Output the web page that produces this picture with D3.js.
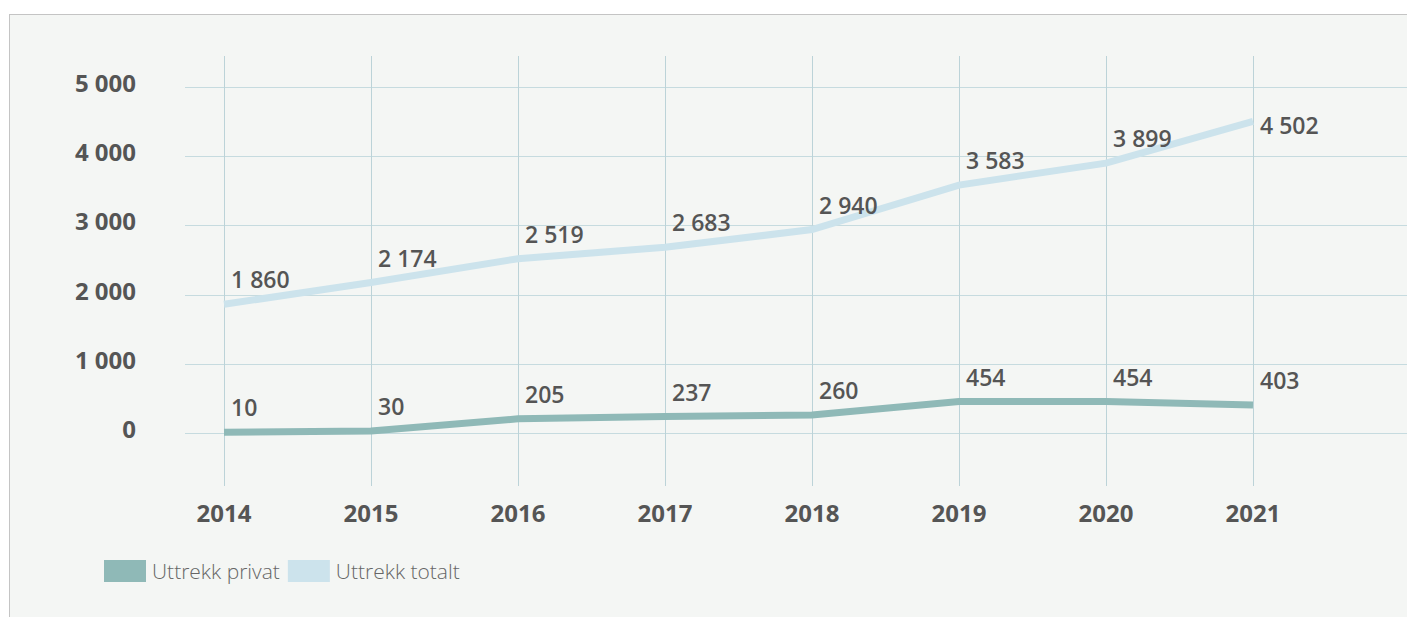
<!DOCTYPE html>
<html>
<head>
<meta charset="utf-8">
<script src="https://cdn.jsdelivr.net/npm/d3@7"></script>
<style>
  body { margin: 0; background: #fff; }
  svg text { font-family: "Open Sans", "Noto Sans", sans-serif; }
</style>
</head>
<body>
<svg id="mainsvg" width="1407" height="617"></svg>
<script>
const years = [2014, 2015, 2016, 2017, 2018, 2019, 2020, 2021];
const privat = [10, 30, 205, 237, 260, 454, 454, 403];
const totalt = [1860, 2174, 2519, 2683, 2940, 3583, 3899, 4502];
const yTicks = [0, 1000, 2000, 3000, 4000, 5000];
const seriesNames = ['Uttrekk privat', 'Uttrekk totalt'];
const seriesColors = ['#8fb9b7', '#cce3ec'];

const svg = d3.select('#mainsvg');
const width = +svg.attr('width');
const height = +svg.attr('height');

// panel
svg.append('rect').attr('x', 9.5).attr('y', 14.5).attr('width', width).attr('height', height)
  .attr('fill', '#f4f6f4').attr('stroke', '#c4c4c4').attr('stroke-width', 1);

const x = d3.scalePoint().domain(years).range([224, 1253]);
const y = d3.scaleLinear().domain([0, 5000]).range([433, 87]);
const fmt = v => d3.format(',')(v).replace(/,/g, ' ');

const g = svg.append('g');

// grid
g.selectAll('.hgrid').data(yTicks).join('line').attr('class', 'hgrid')
  .attr('x1', 185).attr('x2', width)
  .attr('y1', d => Math.round(y(d)) + 0.5).attr('y2', d => Math.round(y(d)) + 0.5)
  .attr('stroke', '#c6dbdf').attr('stroke-width', 1);
g.selectAll('.vgrid').data(years).join('line').attr('class', 'vgrid')
  .attr('x1', d => Math.round(x(d)) + 0.5).attr('x2', d => Math.round(x(d)) + 0.5)
  .attr('y1', 56).attr('y2', 486)
  .attr('stroke', '#bcd3d8').attr('stroke-width', 1);

// axis labels
g.selectAll('.ylab').data(yTicks).join('text').attr('class', 'ylab')
  .attr('x', 136).attr('y', d => y(d) + 5)
  .attr('text-anchor', 'end').attr('font-size', 24).attr('font-weight', 700)
  .attr('fill', '#555').text(fmt);
g.selectAll('.xlab').data(years).join('text').attr('class', 'xlab')
  .attr('x', d => x(d)).attr('y', 522)
  .attr('text-anchor', 'middle').attr('font-size', 24).attr('font-weight', 700)
  .attr('fill', '#555').text(d => d);

// lines
const line = d3.line().x(d => x(d.year)).y(d => y(d.value));
const series = [privat, totalt].map((vals, i) => ({
  name: seriesNames[i], color: seriesColors[i],
  values: vals.map((v, j) => ({ year: years[j], value: v }))
}));

g.selectAll('.line').data(series.slice().reverse()).join('path').attr('class', 'line')
  .attr('d', d => line(d.values)).attr('fill', 'none')
  .attr('stroke', d => d.color).attr('stroke-width', 7);

// value labels
series.forEach((s, si) => {
  g.selectAll('.vlab' + si).data(s.values).join('text').attr('class', 'vlab' + si)
    .attr('x', d => x(d.year) + 7)
    .attr('y', (d, i) => (si === 1 && i === s.values.length - 1) ? y(d.value) + 13 : y(d.value) - 16)
    .attr('font-size', 23).attr('font-weight', 600).attr('fill', '#555')
    .text(d => fmt(d.value));
});

// legend
const leg = svg.append('g').attr('transform', 'translate(104,560)');
let lx = 0;
series.forEach(s => {
  leg.append('rect').attr('x', lx).attr('y', 0).attr('width', 42).attr('height', 22).attr('fill', s.color);
  const t = leg.append('text').attr('x', lx + 48).attr('y', 19)
    .attr('font-size', 21).attr('font-weight', 300).attr('fill', '#666').text(s.name);
  lx += 48 + t.node().getComputedTextLength() + 8;
});
</script>
</body>
</html>
